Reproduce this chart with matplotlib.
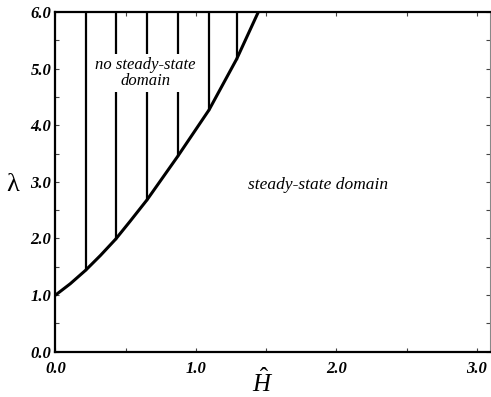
import numpy as np
import matplotlib
matplotlib.use("Agg")
import matplotlib.pyplot as plt

plt.rcParams['font.family'] = ['Liberation Serif', 'DejaVu Serif']
plt.rcParams['mathtext.fontset'] = 'custom'
plt.rcParams['mathtext.rm'] = 'Liberation Serif'
plt.rcParams['mathtext.it'] = 'Liberation Serif:italic'

# boundary curve between the two domains
H_curve = [0.0, 0.105, 0.215, 0.320, 0.429, 0.530, 0.651, 0.870, 1.093, 1.290, 1.444]
lam_curve = [1.0, 1.20, 1.44, 1.70, 1.99, 2.30, 2.68, 3.45, 4.27, 5.17, 6.0]
# hatch lines sit on these curve points
hatch_idx = [2, 4, 6, 7, 8, 9]

x_ticks = [0.0, 1.0, 2.0, 3.0]
y_ticks = [0.0, 1.0, 2.0, 3.0, 4.0, 5.0, 6.0]

fig = plt.figure(figsize=(4.91, 3.97), dpi=100)
ax = fig.add_axes([0.113, 0.114, 0.885, 0.856])

ax.plot(H_curve, lam_curve, color='black', lw=2.2, solid_capstyle='round',
        solid_joinstyle='round', zorder=3)
for i in hatch_idx:
    ax.plot([H_curve[i], H_curve[i]], [lam_curve[i], 6.0], color='black', lw=1.6, zorder=2)

ax.text(0.64, 4.92, 'no steady-state\ndomain', ha='center', va='center',
        fontsize=12, style='italic', linespacing=1.0, zorder=4,
        bbox=dict(boxstyle='square,pad=0.2', facecolor='white', edgecolor='none'))
ax.text(1.87, 2.95, 'steady-state domain', ha='center', va='center',
        fontsize=12.5, style='italic', zorder=4)

ax.set_xlim(0, 3.093)
ax.set_ylim(0, 6.0)
ax.set_xticks(x_ticks)
ax.set_yticks(y_ticks)
ax.set_xticks(np.arange(0.5, 3.01, 0.5), minor=True)
ax.set_yticks(np.arange(0.5, 6.0, 0.5), minor=True)
ax.set_xticklabels(['%.1f' % v for v in x_ticks], fontsize=12, fontweight='bold', style='italic')
ax.set_yticklabels(['%.1f' % v for v in y_ticks], fontsize=12, fontweight='bold', style='italic')
ax.tick_params(which='both', direction='in', top=True, right=True, length=3,
               width=0.8, color='#444444', pad=3)
ax.tick_params(axis='x', which='major', pad=7)

for s in ['left', 'bottom', 'top']:
    ax.spines[s].set_linewidth(1.6)
ax.spines['right'].set_linewidth(0.8)
ax.spines['right'].set_color('#888888')
ax.spines['right'].set_linestyle((0, (1, 1)))

fig.text(0.536, 0.035, r'$\hat{H}$', fontsize=18, ha='center', va='center')
fig.text(0.026, 0.535, 'λ', fontsize=19, ha='center', va='center')

fig.savefig('out.png', dpi=100)
